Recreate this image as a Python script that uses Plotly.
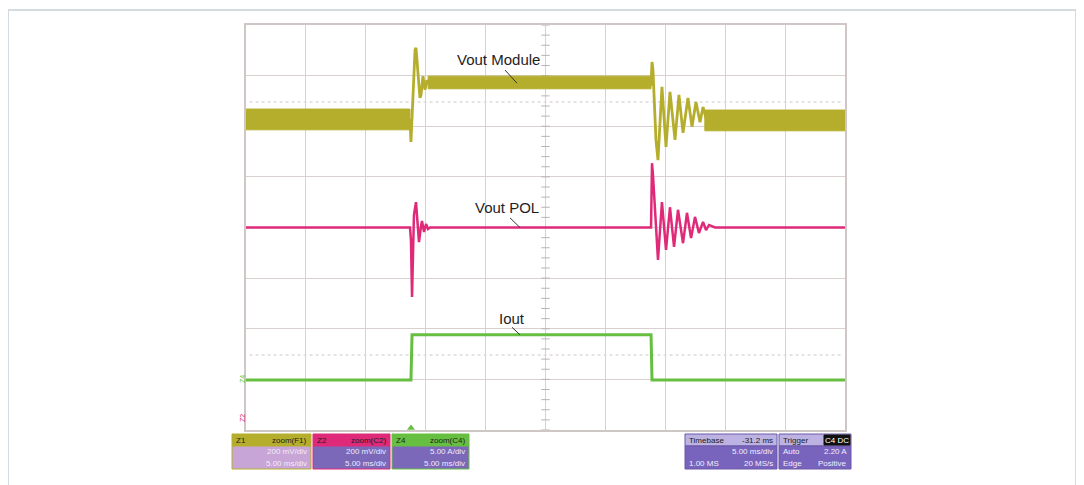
import numpy as np
import plotly.graph_objects as go

# ---------------- data (time in ms, 5 ms/div; amplitude in divisions) ----------------
module_t = [0, 13.69, 13.77, 13.94, 14.11, 14.19, 14.27, 14.44, 14.52, 14.61, 14.77, 14.94, 15.11, 15.28,
            33.81, 33.89, 33.97, 34.22, 34.39, 34.72, 35.06, 35.39, 35.81, 36.14, 36.48, 36.89,
            37.23, 37.56, 37.90, 38.15, 38.40, 50.0]
module_v = [2.12, 2.12, 1.69, 2.52, 3.51, 3.55, 3.31, 2.68, 2.56, 2.62, 2.99, 2.72, 2.91, 2.83,
            2.83, 3.27, 3.11, 1.73, 1.33, 2.78, 1.59, 2.68, 1.73, 2.62, 1.87, 2.56,
            1.99, 2.48, 2.08, 2.38, 2.16, 2.12]
# noise envelope of the module output (start, end, upper, lower)
module_band_start = [0.0, 15.2, 38.3]
module_band_end = [13.69, 33.81, 50.0]
module_band_hi = [2.34, 2.99, 2.32]
module_band_lo = [1.93, 2.74, 1.91]

pol_t = [0, 13.69, 13.77, 13.86, 13.94, 14.02, 14.19, 14.36, 14.44, 14.61, 14.69, 14.86, 15.03, 15.19, 15.36,
         33.81, 33.89, 33.97, 34.39, 34.72, 35.06, 35.39, 35.73, 36.06, 36.48, 36.81, 37.15,
         37.48, 37.81, 38.15, 38.40, 38.65, 39.15, 50.0]
pol_v = [0.0, 0.0, -0.25, -1.37, -0.54, 0.25, 0.50, -0.09, -0.29, 0.03, 0.13, -0.09, 0.07, -0.03, 0.0,
         0.0, 1.27, 1.04, -0.64, 0.50, -0.44, 0.40, -0.385, 0.35, -0.31, 0.29, -0.21,
         0.21, -0.11, 0.11, -0.05, 0.05, 0.0, 0.0]

iout_t = [0, 13.77, 13.86, 33.81, 33.89, 50.0]
iout_v = [-3.01, -3.01, -2.12, -2.12, -3.01, -3.01]

trace_labels = ["Vout Module", "Vout POL", "Iout"]
label_t = [21.1, 21.8, 22.2]
label_v = [3.31, 0.39, -1.79]

info_boxes = [
    ["Z1", "zoom(F1)", "200 mV/div", "5.00 ms/div"],
    ["Z2", "zoom(C2)", "200 mV/div", "5.00 ms/div"],
    ["Z4", "zoom(C4)", "5.00 A/div", "5.00 ms/div"],
]
timebase_texts = ["Timebase", "-31.2 ms", "5.00 ms/div", "1.00 MS", "20 MS/s"]
trigger_texts = ["Trigger", "C4 DC", "Auto", "2.20 A", "Edge", "Positive"]

# ---------------- style ----------------
C_MOD = "#b5ae2c"
C_POL = "#de2a78"
C_IOUT = "#66bf40"
GRID = "#d9d0d0"
FONT = "Liberation Sans, Arial, sans-serif"

OFF = 8  # page (body) offset of the figure
L, R, T, B = 246, 845, 25, 430  # plot area in page pixels
W, H = 1084, 485


def PX(px):
    return (px - L) / (R - L)


def PY(py):
    return (B - py) / (B - T)


fig = go.Figure()

# graticule ticks on the centre vertical axis
fig.add_trace(go.Scatter(x=[25] * 41, y=np.linspace(-4, 4, 41), mode="markers",
                         marker=dict(symbol="line-ew", size=6, line=dict(width=1, color="#bcb2b2")),
                         hoverinfo="skip"))
# dotted reference rows
for yv in (2.48, -2.52):
    fig.add_trace(go.Scatter(x=[0.3, 49.7], y=[yv, yv], mode="lines",
                             line=dict(color="#e0dada", width=1.5, dash="dot"), hoverinfo="skip"))

# module noise bands
for s, e, hi, lo in zip(module_band_start, module_band_end, module_band_hi, module_band_lo):
    fig.add_trace(go.Scatter(x=[s, e, e, s, s], y=[hi, hi, lo, lo, hi], mode="lines",
                             fill="toself", fillcolor=C_MOD, line=dict(color=C_MOD, width=1),
                             hoverinfo="skip"))
fig.add_trace(go.Scatter(x=module_t, y=module_v, mode="lines", line=dict(color=C_MOD, width=2.8)))
fig.add_trace(go.Scatter(x=pol_t, y=pol_v, mode="lines", line=dict(color=C_POL, width=2.5)))
fig.add_trace(go.Scatter(x=iout_t, y=iout_v, mode="lines", line=dict(color=C_IOUT, width=3)))

shapes = []
annotations = []

# centre axis line
shapes.append(dict(type="line", xref="x", yref="y", x0=25, x1=25, y0=-4, y1=4,
                   line=dict(color="#c4baba", width=1), layer="below"))
# leader lines
leaders = [((21.62, 3.11), (22.62, 2.85)), ((22.04, 0.19), (22.87, 0.0)), ((22.20, -1.97), (22.87, -2.12))]
for (x0, y0), (x1, y1) in leaders:
    shapes.append(dict(type="line", xref="x", yref="y", x0=x0, y0=y0, x1=x1, y1=y1,
                       line=dict(color="#333333", width=1)))
for txt, tx, ty in zip(trace_labels, label_t, label_v):
    annotations.append(dict(text=txt, x=tx, y=ty, xref="x", yref="y", showarrow=False,
                            xanchor="center", yanchor="middle",
                            font=dict(family=FONT, size=15, color="#1e1e1e")))

# outer frame
shapes.append(dict(type="rect", xref="paper", yref="paper", x0=PX(8), x1=PX(1076), y0=PY(500), y1=PY(10),
                   line=dict(color="#d3dde1", width=2), layer="below"))


def ptext(txt, px, py, anchor, color, size=8, angle=0):
    annotations.append(dict(text=txt, x=PX(px), y=PY(py), xref="paper", yref="paper",
                            xanchor=anchor, yanchor="middle", showarrow=False, textangle=angle,
                            font=dict(family=FONT, size=size, color=color)))


# channel markers
ptext("Z4", 242, 379, "center", C_IOUT, 7, -90)
ptext("Z2", 242, 418, "center", C_POL, 7, -90)
fig.add_trace(go.Scatter(x=[PX(850)], y=[PY(335)], xaxis="x2", yaxis="y2", mode="markers",
                         marker=dict(symbol="triangle-left", size=8, color=C_IOUT), hoverinfo="skip",
                         cliponaxis=False))
fig.add_trace(go.Scatter(x=[PX(411)], y=[PY(428)], xaxis="x2", yaxis="y2", mode="markers",
                         marker=dict(symbol="triangle-up", size=7, color=C_IOUT), hoverinfo="skip",
                         cliponaxis=False))

# info boxes
row_y = [434, 446, 457, 469]
box_x = [(232, 311), (313, 390), (392, 469)]
heads = [C_MOD, C_POL, C_IOUT]
bodies = ["#c7a5d6", "#7b68b8", "#7b68b8"]
body_txt = ["#f4ecf8", "#eeeaff", "#eeeaff"]
for (x0, x1), hc, bc, btc, texts in zip(box_x, heads, bodies, body_txt, info_boxes):
    shapes.append(dict(type="rect", xref="paper", yref="paper", x0=PX(x0), x1=PX(x1),
                       y0=PY(row_y[1]), y1=PY(row_y[0]), fillcolor=hc, line=dict(color=hc, width=1)))
    shapes.append(dict(type="rect", xref="paper", yref="paper", x0=PX(x0), x1=PX(x1),
                       y0=PY(row_y[3]), y1=PY(row_y[1]), fillcolor=bc, line=dict(color=hc, width=1)))
    ptext(texts[0], x0 + 2, 440, "left", "#202020")
    ptext(texts[1], x1 - 2, 440, "right", "#202020")
    ptext(texts[2], x1 - 2, 451.5, "right", btc)
    ptext(texts[3], x1 - 2, 463, "right", btc)

# timebase & trigger boxes
for (x0, x1) in [(685, 777), (779, 851)]:
    shapes.append(dict(type="rect", xref="paper", yref="paper", x0=PX(x0), x1=PX(x1),
                       y0=PY(row_y[1]), y1=PY(row_y[0]), fillcolor="#bdb3e3", line=dict(color="#6a58a8", width=1)))
    shapes.append(dict(type="rect", xref="paper", yref="paper", x0=PX(x0), x1=PX(x1),
                       y0=PY(row_y[3]), y1=PY(row_y[1]), fillcolor="#7864bc", line=dict(color="#6a58a8", width=1)))
# C4 DC black pill
shapes.append(dict(type="rect", xref="paper", yref="paper", x0=PX(824), x1=PX(850), y0=PY(445), y1=PY(435),
                   fillcolor="#111111", line=dict(color="#111111", width=1)))

ptext(timebase_texts[0], 687, 440, "left", "#202020")
ptext(timebase_texts[1], 775, 440, "right", "#202020")
ptext(timebase_texts[2], 775, 451.5, "right", "#f0eeff")
ptext(timebase_texts[3], 687, 463, "left", "#f0eeff")
ptext(timebase_texts[4], 775, 463, "right", "#f0eeff")
ptext(trigger_texts[0], 781, 440, "left", "#202020")
ptext(trigger_texts[1], 837, 440, "center", "#ffffff")
ptext(trigger_texts[2], 781, 451.5, "left", "#f0eeff")
ptext(trigger_texts[3], 849, 451.5, "right", "#f0eeff")
ptext(trigger_texts[4], 781, 463, "left", "#f0eeff")
ptext(trigger_texts[5], 849, 463, "right", "#f0eeff")

fig.update_layout(
    width=W, height=H,
    margin=dict(l=L - OFF, r=W - (R - OFF), t=T - OFF, b=H - (B - OFF), pad=0),
    paper_bgcolor="white", plot_bgcolor="white",
    showlegend=False, hovermode=False,
    xaxis=dict(range=[0, 50], dtick=5, tick0=0, showgrid=True, gridcolor=GRID, gridwidth=1,
               zeroline=False, showticklabels=False, ticks="", showline=True, mirror=True,
               linecolor="#cfc6c6", linewidth=1.5),
    yaxis=dict(range=[-4, 4], dtick=1, tick0=0, showgrid=True, gridcolor=GRID, gridwidth=1,
               zeroline=False, showticklabels=False, ticks="", showline=True, mirror=True,
               linecolor="#cfc6c6", linewidth=1.5),
    xaxis2=dict(range=[0, 1], overlaying="x", visible=False),
    yaxis2=dict(range=[0, 1], overlaying="y", visible=False),
    shapes=shapes,
    annotations=annotations,
)

fig.write_html("out.html")
